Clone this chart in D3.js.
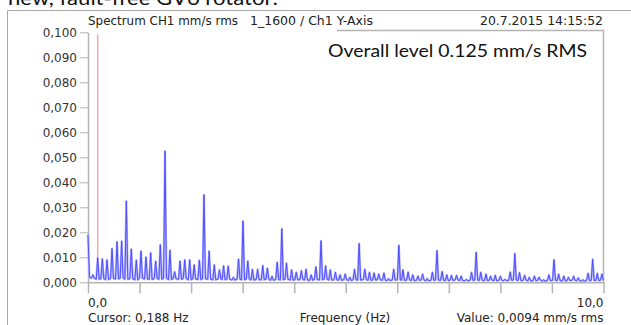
<!DOCTYPE html>
<html>
<head>
<meta charset="utf-8">
<script src="https://cdn.jsdelivr.net/npm/d3@7/dist/d3.min.js"></script>
<style>
  body { margin: 0; background: #fff; }
  svg { display: block; }
</style>
</head>
<body>
<div id="chart"></div>
<script>
// spectrum peaks (Hz, mm/s rms)
const peak_freq = [
  0.00, 0.094, 0.188, 0.278, 0.369, 0.466, 0.563, 0.653, 0.744, 0.84,
  0.937, 1.028, 1.125, 1.216, 1.313, 1.403, 1.494, 1.59, 1.68, 1.785,
  1.876, 1.973, 2.06, 2.16, 2.25, 2.35, 2.45, 2.55, 2.63, 2.72,
  2.82, 2.92, 3.007, 3.10, 3.19, 3.29, 3.39, 3.48, 3.57, 3.67,
  3.76, 3.85, 3.95, 4.04, 4.14, 4.23, 4.33, 4.42, 4.52, 4.61,
  4.70, 4.80, 4.89, 4.99, 5.08, 5.17, 5.26, 5.37, 5.46, 5.55,
  5.64, 5.74, 5.83, 5.93, 6.03, 6.11, 6.21, 6.30, 6.40, 6.49,
  6.58, 6.68, 6.77, 6.87, 6.96, 7.05, 7.15, 7.24, 7.34, 7.44,
  7.53, 7.62, 7.72, 7.81, 7.90, 8.00, 8.09, 8.19, 8.28, 8.37,
  8.47, 8.56, 8.66, 8.75, 8.84, 8.94, 9.04, 9.13, 9.23, 9.32,
  9.42, 9.51, 9.60, 9.70, 9.79, 9.88, 9.97
];
const peak_amp = [
  0.0190, 0.0030, 0.0098, 0.0094, 0.0090, 0.0135, 0.0162, 0.0165, 0.0325, 0.0133,
  0.0089, 0.0125, 0.0101, 0.0118, 0.0085, 0.0150, 0.0525, 0.0128, 0.0042, 0.0085,
  0.0090, 0.0090, 0.0070, 0.0088, 0.0350, 0.0125, 0.0070, 0.0050, 0.0066, 0.0065,
  0.0020, 0.0093, 0.0245, 0.0085, 0.0052, 0.0052, 0.0067, 0.0057, 0.0024, 0.0080,
  0.0214, 0.0077, 0.0050, 0.0040, 0.0047, 0.0052, 0.0030, 0.0062, 0.0166, 0.0066,
  0.0050, 0.0040, 0.0030, 0.0033, 0.0020, 0.0052, 0.0155, 0.0052, 0.0040, 0.0037,
  0.0033, 0.0037, 0.0015, 0.0052, 0.0148, 0.0050, 0.0041, 0.0030, 0.0025, 0.0033,
  0.0015, 0.0040, 0.0127, 0.0043, 0.0030, 0.0028, 0.0028, 0.0025, 0.0012, 0.0040,
  0.0120, 0.0040, 0.0033, 0.0025, 0.0028, 0.0024, 0.0012, 0.0041, 0.0115, 0.0039,
  0.0028, 0.0020, 0.0025, 0.0020, 0.0010, 0.0030, 0.0090, 0.0033, 0.0025, 0.0020,
  0.0025, 0.0018, 0.0010, 0.0036, 0.0092, 0.0036, 0.0033
];
// noise floor at the foot of each peak
const peak_floor = [
  0.0020, 0.0016, 0.0012, 0.0014, 0.0011, 0.0015, 0.0013, 0.0017, 0.0012, 0.0014,
  0.0010, 0.0016, 0.0013, 0.0011, 0.0015, 0.0012, 0.0016, 0.0011, 0.0014, 0.0012,
  0.0015, 0.0010, 0.0013, 0.0011, 0.0014, 0.0012, 0.0010, 0.0013, 0.0011, 0.0012,
  0.0009, 0.0012, 0.0010, 0.0013, 0.0009, 0.0011, 0.0010, 0.0012, 0.0008, 0.0011,
  0.0010, 0.0012, 0.0009, 0.0010, 0.0011, 0.0009, 0.0008, 0.0011, 0.0010, 0.0012,
  0.0009, 0.0010, 0.0008, 0.0010, 0.0007, 0.0010, 0.0009, 0.0011, 0.0008, 0.0009,
  0.0010, 0.0008, 0.0007, 0.0009, 0.0010, 0.0008, 0.0009, 0.0007, 0.0008, 0.0009,
  0.0006, 0.0008, 0.0009, 0.0008, 0.0007, 0.0008, 0.0009, 0.0007, 0.0006, 0.0008,
  0.0009, 0.0008, 0.0007, 0.0008, 0.0006, 0.0008, 0.0006, 0.0008, 0.0009, 0.0007,
  0.0008, 0.0006, 0.0007, 0.0008, 0.0005, 0.0007, 0.0008, 0.0007, 0.0006, 0.0007,
  0.0008, 0.0006, 0.0005, 0.0007, 0.0008, 0.0007, 0.0008
];

const y_ticks = [0, 0.01, 0.02, 0.03, 0.04, 0.05, 0.06, 0.07, 0.08, 0.09, 0.1];
const x_ticks = [0, 1, 2, 3, 4, 5, 6, 7, 8, 9, 10];
const x_end_labels = ['0,0', '10,0'];
const cursor_freq = [0.188];
const cursor_value = [0.0094];

const page_title = 'new, fault-free GV6 rotator:';
const header_left = 'Spectrum CH1 mm/s rms';
const header_mid = '1_1600 / Ch1 Y-Axis';
const header_right = '20.7.2015 14:15:52';
const note_text = 'Overall level 0.125 mm/s RMS';
const footer_left = 'Cursor: 0,188 Hz';
const footer_mid = 'Frequency (Hz)';
const footer_right = 'Value: 0,0094 mm/s rms';

const chart_width = 631;
const chart_height = 325;
const plot_left = 88;
const plot_right = 603.5;
const plot_top = 32.3;
const plot_bottom = 282.3;
const axis_grey = '#b4b4b4';
const label_font = 'DejaVu Sans, Verdana, sans-serif';

const svg = d3.select('#chart').append('svg')
  .attr('width', chart_width)
  .attr('height', chart_height);

const x_scale = d3.scaleLinear().domain([0, 10]).range([plot_left, plot_right]);
const y_scale = d3.scaleLinear().domain([0, 0.1]).range([plot_bottom, plot_top]);

// outer frame of the pasted screenshot
svg.append('path')
  .attr('d', 'M7.5,' + chart_height + 'V10.5H' + chart_width)
  .attr('fill', 'none')
  .attr('stroke', '#a8a8a8')
  .attr('stroke-width', 1);

// caption above the screenshot, cut by the top edge as in the source
svg.append('text')
  .attr('x', 8)
  .attr('y', 4.5)
  .attr('textLength', 270)
  .attr('lengthAdjust', 'spacingAndGlyphs')
  .style('font', '20px Lato, "Open Sans", sans-serif')
  .attr('fill', '#111')
  .text(page_title);

// header line
const header = svg.append('g')
  .style('font', '12px ' + label_font)
  .attr('fill', '#222');
header.append('text').attr('x', plot_left).attr('y', 24.5)
  .attr('textLength', 150).attr('lengthAdjust', 'spacingAndGlyphs').text(header_left);
header.append('text').attr('x', 250).attr('y', 24.5)
  .attr('textLength', 123).attr('lengthAdjust', 'spacingAndGlyphs').text(header_mid);
header.append('text').attr('x', 480).attr('y', 24.5)
  .attr('textLength', 123).attr('lengthAdjust', 'spacingAndGlyphs').text(header_right);

// plot border (right side and part of the top)
svg.append('path')
  .attr('d', 'M337,30.5H' + plot_right + 'V' + plot_bottom)
  .attr('fill', 'none')
  .attr('stroke', axis_grey)
  .attr('stroke-width', 1.5);

// Create Axes
const y_axis = d3.axisLeft(y_scale)
  .tickValues(y_ticks)
  .tickSize(8)
  .tickSizeOuter(0)
  .tickPadding(3)
  .tickFormat(d => d3.format('.3f')(d).replace('.', ','));
const x_axis = d3.axisBottom(x_scale)
  .tickValues(x_ticks)
  .tickSize(11)
  .tickSizeOuter(0)
  .tickFormat('');

const gy = svg.append('g')
  .attr('class', 'axis axis--y')
  .attr('transform', 'translate(' + plot_left + ',0)')
  .call(y_axis);
gy.select('.domain').attr('stroke', axis_grey).attr('stroke-width', 1.5);
gy.selectAll('.tick line').attr('stroke', axis_grey);
gy.selectAll('.tick text')
  .style('font', '12px ' + label_font)
  .attr('fill', '#333');

const gx = svg.append('g')
  .attr('class', 'axis axis--x')
  .attr('transform', 'translate(0,' + plot_bottom + ')')
  .call(x_axis);
gx.select('.domain').attr('stroke', axis_grey).attr('stroke-width', 1.5);
gx.selectAll('.tick line').attr('stroke', axis_grey).attr('stroke-width', 1.5);

// cursor
svg.selectAll('.cursor')
  .data(cursor_freq)
  .enter().append('line')
  .attr('class', 'cursor')
  .attr('x1', d => x_scale(d))
  .attr('x2', d => x_scale(d))
  .attr('y1', 34.5)
  .attr('y2', (d, i) => y_scale(cursor_value[i]))
  .attr('stroke', '#f5a8a8')
  .attr('stroke-width', 1.5);

// spectrum line: each peak rises from its floor
const peak_half_width = 0.028;
const spectrum = [];
peak_freq.forEach(function(f, i) {
  if (f - peak_half_width > 0) {
    spectrum.push({ time: f - peak_half_width, value: peak_floor[i] });
  }
  spectrum.push({ time: f, value: peak_amp[i] });
  spectrum.push({ time: f + peak_half_width, value: peak_floor[i] });
});
spectrum.push({ time: 10, value: peak_floor[peak_floor.length - 1] });

const line = d3.line()
  .x(function(d) { return x_scale(d['time']); })
  .y(function(d) { return y_scale(d['value']); });

// soft halo under the trace, like the anti-aliased original
svg.append('path')
  .datum(spectrum)
  .attr('fill', 'none')
  .attr('stroke', '#b4b4ff')
  .attr('stroke-width', 2.2)
  .attr('stroke-linejoin', 'round')
  .attr('d', line);

svg.append('path')
  .datum(spectrum)
  .attr('fill', 'none')
  .attr('stroke', '#4646ff')
  .attr('stroke-width', 0.9)
  .attr('d', line);

// annotation
svg.append('text')
  .attr('x', 328)
  .attr('y', 56.7)
  .attr('textLength', 259)
  .attr('lengthAdjust', 'spacingAndGlyphs')
  .style('font', '18px Lato, "Open Sans", sans-serif')
  .attr('fill', '#111')
  .text(note_text);

// footer labels
const footer = svg.append('g')
  .style('font', '12px ' + label_font)
  .attr('fill', '#222');
footer.append('text').attr('x', x_scale(x_ticks[0])).attr('y', 307).text(x_end_labels[0]);
footer.append('text').attr('x', x_scale(x_ticks[x_ticks.length - 1])).attr('y', 307)
  .attr('text-anchor', 'end').text(x_end_labels[1]);
footer.append('text').attr('x', plot_left).attr('y', 321.5).text(footer_left);
footer.append('text').attr('x', 345).attr('y', 321.5)
  .attr('text-anchor', 'middle').text(footer_mid);
footer.append('text').attr('x', plot_right).attr('y', 321.5)
  .attr('text-anchor', 'end').text(footer_right);
</script>
</body>
</html>
